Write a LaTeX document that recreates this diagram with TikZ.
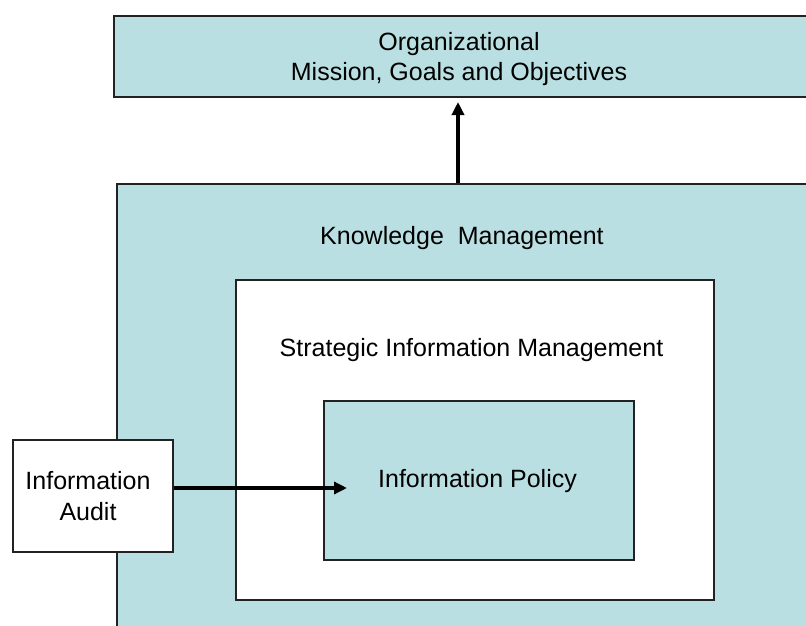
\documentclass[tikz,border=0pt]{standalone}
\usepackage{fontspec}
\setmainfont{Liberation Sans}
\usetikzlibrary{arrows.meta}
\definecolor{paleteal}{HTML}{BADFE2}
\definecolor{edge}{HTML}{222222}
\begin{document}
\begin{tikzpicture}[x=1pt,y=-1pt,
  box/.style={draw=edge,line width=1.8pt,rectangle,inner sep=0pt,anchor=north west},
  tealbox/.style={box,fill=paleteal},
  whitebox/.style={box,fill=white},
  lbl/.style={font=\fontsize{25}{30.5}\selectfont,align=center,inner sep=0pt},
  flow/.style={line width=3.4pt,-{Triangle[length=13pt,width=12pt]}}]
\path[use as bounding box,fill=white] (0,0) rectangle (806,626);
\begin{scope}
  \clip (0,0) rectangle (806,626);
  % mission box runs off the right edge
  \node[tealbox,minimum width=720pt,minimum height=81pt] (org) at (113,15) {};
  % knowledge management area runs off the right and bottom edges
  \node[tealbox,minimum width=720pt,minimum height=470pt] (km) at (116,183) {};
\end{scope}
\node[whitebox,minimum width=478pt,minimum height=320pt] (sim) at (235,279) {};
\node[tealbox,minimum width=310pt,minimum height=159pt] (pol) at (323,400) {};
\node[whitebox,minimum width=160pt,minimum height=112pt] (audit) at (12,439) {};

\node[lbl] (orgtxt) at (459,59) {Organizational\\Mission, Goals and Objectives};
\node[lbl] (kmtxt) at (462,238) {Knowledge\ \ Management};
\node[lbl] (simtxt) at (471.5,350) {Strategic Information Management};
\node[lbl] (poltxt) at (477.5,481) {Information Policy};
\node[lbl] (audtxt) at (88,496) {Information\\Audit};

\coordinate (uptip) at (458,96);
\coordinate (righttip) at (347,488);
\draw[flow,shorten >=6pt] (km.north -| uptip) -- (uptip);
\draw[flow] (audit.east |- righttip) -- (righttip);
\end{tikzpicture}
\end{document}
